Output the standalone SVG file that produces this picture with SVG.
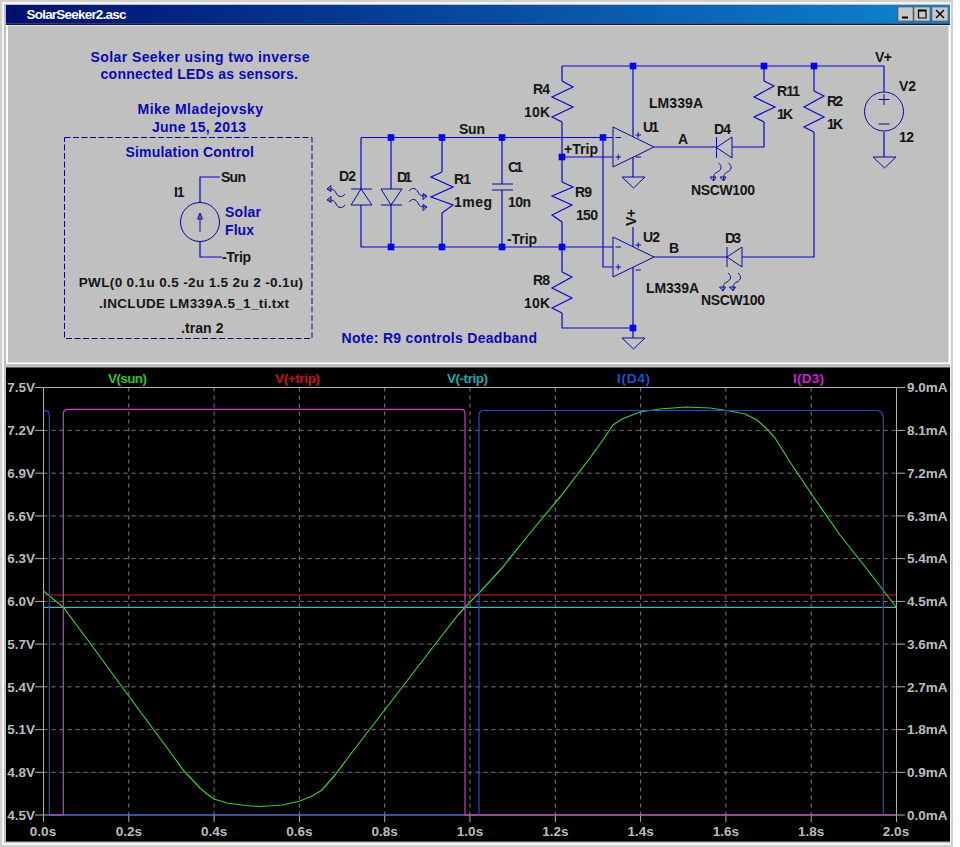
<svg xmlns="http://www.w3.org/2000/svg" xmlns:xlink="http://www.w3.org/1999/xlink" width="960" height="847" viewBox="0 0 960 847">
<style>
text{font-family:"Liberation Sans",Arial,sans-serif;font-weight:bold;font-size:14px}
.k{fill:#161616}
.b{fill:#0a0ab4}
.n{font-size:13.500px}
.w{fill:none;stroke:#0808cc;stroke-width:1.200}
.s{fill:none;stroke:#0a0a9c;stroke-width:1}
.j{fill:#0000f0}
.ax{fill:#bdbdbd;font-size:13.500px}
.g{fill:none;stroke:#7c7c7c;stroke-width:1;stroke-dasharray:4 4}
.t{fill:none;stroke-width:1.200}
.tick{fill:none;stroke:#b0b0b0;stroke-width:1}
</style>
<defs>
<linearGradient id="tb" x1="0" x2="1" y1="0" y2="0"><stop offset="0" stop-color="#001070"/><stop offset="1" stop-color="#1084d0"/></linearGradient>
<g id="lf"><path class="s" d="M6,0 C10,3 9,7 5,9 C2,10 1,12 1,17 M-2.500,14 L1,18 L3.500,14 H-2.500"/></g>
<g id="gnd"><path class="s" d="M-11.500,0 H11.500 L0,11 Z"/></g>
<rect id="jn" x="-3.300" y="-3.300" width="6.600" height="6.600" class="j"/>
</defs>
<rect width="960" height="847" fill="#fff"/>
<g id="window">
<rect x="0" y="0" width="953" height="847" fill="#d0d0d0"/>
<rect x="2" y="2" width="949" height="843" fill="#f4f4f4"/>
<rect x="4" y="4" width="946" height="839" fill="#c0c0c0"/>
<rect x="6" y="5" width="944" height="18.500" fill="url(#tb)"/>
<path d="M17,8 C11,11 11,18 17,22 C14,18 14,12 17,8 Z" fill="#000a50"/>
<text class="n" x="26.500" y="18.500" fill="#fff" textLength="100" lengthAdjust="spacing">SolarSeeker2.asc</text>
<rect x="6" y="23.500" width="944" height="1.500" fill="#101030"/>
<g id="buttons">
<rect x="898" y="7" width="15" height="14" fill="#c8c8c8" stroke="#555" stroke-width=".6"/>
<rect x="914" y="7" width="16" height="14" fill="#c8c8c8" stroke="#555" stroke-width=".6"/>
<rect x="932" y="7" width="16" height="14" fill="#c8c8c8" stroke="#555" stroke-width=".6"/>
<path d="M902,17.500 H908" stroke="#000" stroke-width="2"/>
<path d="M918.500,10 H926 V18 H918.500 Z M918.500,10.800 H926" fill="none" stroke="#000" stroke-width="1.200"/>
<path d="M936,10 L944,18 M944,10 L936,18" stroke="#000" stroke-width="1.500"/>
</g>
<rect x="6" y="25" width="944" height="339" fill="#fff"/>
<rect x="8" y="25.500" width="940.500" height="337" fill="#c0c0c0"/>
</g>

<g id="annotations">
<text class="b" x="90.500" y="61.500" textLength="219" lengthAdjust="spacing">Solar Seeker using two inverse</text>
<text class="b" x="100.500" y="79" textLength="197.500" lengthAdjust="spacing">connected LEDs as sensors.</text>
<text class="b" x="137.500" y="114" textLength="125.500" lengthAdjust="spacing">Mike Mladejovsky</text>
<text class="b" x="152" y="132" textLength="94" lengthAdjust="spacing">June 15, 2013</text>
<rect x="64.500" y="137.500" width="247.500" height="201" fill="none" stroke="#0a0a80" stroke-width="1" stroke-dasharray="6 2.500"/>
<text class="b" x="125.500" y="157" textLength="128.500" lengthAdjust="spacing">Simulation Control</text>
<text class="k n" x="78.700" y="287" textLength="224.300" lengthAdjust="spacing">PWL(0 0.1u 0.5 -2u 1.5 2u 2 -0.1u)</text>
<text class="k n" x="99" y="308" textLength="190" lengthAdjust="spacing">.INCLUDE LM339A.5_1_ti.txt</text>
<text class="k" x="181" y="333" textLength="42.500" lengthAdjust="spacing">.tran 2</text>
<text class="b" x="341.500" y="343" textLength="195.500" lengthAdjust="spacing">Note: R9 controls Deadband</text>
</g>

<g id="connectors">
<path class="w" d="M361,137.500 H603 M603,137.500 H613 M562,122 V182 M562,222 V247 M562,157 H613 M603,137.500 V267 H613 M361,137.500 V189 M361,205 V247 H613 M391,137.500 V189 M391,205 V247 M442,137.500 V172 M442,213 V247 M502,137.500 V184 M502,190 V247 M562,66 V81 M562,66 H884 V92 M633,66 V137 M633,157 V177 M633,227 V247 M633,267 V338 M562,247 V272 M562,313 V328 H633 M654,147 H716 M732,147 H764 V122 M764,66 V81 M814,66 V91 M814,132 V257 H742 M654,257 H727 M884,132 V157 M200,202 V177 H220 M200,242 V257 H222"/>
<use xlink:href="#jn" href="#jn" x="391" y="137.500"/><use xlink:href="#jn" href="#jn" x="442" y="137.500"/><use xlink:href="#jn" href="#jn" x="502" y="137.500"/><use xlink:href="#jn" href="#jn" x="603" y="137.500"/><use xlink:href="#jn" href="#jn" x="562" y="157"/><use xlink:href="#jn" href="#jn" x="391" y="247"/><use xlink:href="#jn" href="#jn" x="442" y="247"/><use xlink:href="#jn" href="#jn" x="502" y="247"/><use xlink:href="#jn" href="#jn" x="562" y="247"/><use xlink:href="#jn" href="#jn" x="633" y="66"/><use xlink:href="#jn" href="#jn" x="764" y="66"/><use xlink:href="#jn" href="#jn" x="814" y="66"/><use xlink:href="#jn" href="#jn" x="633" y="328"/>
</g>

<g id="I1">
<circle class="s" cx="200" cy="222" r="19.500"/>
<path class="s" d="M200,232 V213 M197.500,219 L200,213 L202.500,219 Z"/>
<text class="k" x="174" y="197" textLength="10.500" lengthAdjust="spacing">I1</text>
<text class="k" x="221" y="182" textLength="25" lengthAdjust="spacing">Sun</text>
<text class="b" x="225" y="217" textLength="36" lengthAdjust="spacing">Solar</text>
<text class="b" x="225" y="235" textLength="29" lengthAdjust="spacing">Flux</text>
<text class="k" x="222" y="262" textLength="29" lengthAdjust="spacing">-Trip</text>
</g>
<g id="D2">
<path class="s" d="M351,189 H372 M361,189 L372,205 H351 Z"/>
<use xlink:href="#lf" href="#lf" transform="translate(345,188) rotate(90)"/>
<use xlink:href="#lf" href="#lf" transform="translate(345,199) rotate(90)"/>
<text class="k" x="339" y="181" textLength="17" lengthAdjust="spacing">D2</text>
</g>
<g id="D1">
<path class="s" d="M381,189 H402 L391,205 Z M381,205 H402"/>
<use xlink:href="#lf" href="#lf" transform="translate(409,197) rotate(-90)"/>
<use xlink:href="#lf" href="#lf" transform="translate(409,208) rotate(-90)"/>
<text class="k" x="397" y="182" textLength="15" lengthAdjust="spacing">D1</text>
</g>
<g id="R1">
<path class="w" d="M442,172 L431,177 L453,187 L431,197 L453,205 L442,213"/>
<text class="k" x="454" y="184" textLength="17" lengthAdjust="spacing">R1</text>
<text class="k" x="454" y="207" textLength="38" lengthAdjust="spacing">1meg</text>
</g>
<g id="C1">
<path class="s" d="M492,184 H513 M492,190 H513"/>
<text class="k" x="508" y="172" textLength="15" lengthAdjust="spacing">C1</text>
<text class="k" x="508" y="207" textLength="23" lengthAdjust="spacing">10n</text>
</g>
<text class="k" x="459" y="134" textLength="26" lengthAdjust="spacing">Sun</text>
<text class="k" x="564" y="154" textLength="34" lengthAdjust="spacing">+Trip</text>
<text class="k" x="507" y="244" textLength="30" lengthAdjust="spacing">-Trip</text>
<g id="R4">
<path class="w" d="M562,81 L573,87 L552,97 L573,107 L552,117 L562,122"/>
<text class="k" x="533" y="94" textLength="17" lengthAdjust="spacing">R4</text>
<text class="k" x="524" y="117" textLength="26" lengthAdjust="spacing">10K</text>
</g>
<g id="R9">
<path class="w" d="M562,182 L573,187 L552,196 L572,205 L552,215 L562,222"/>
<text class="k" x="575" y="197" textLength="17" lengthAdjust="spacing">R9</text>
<text class="k" x="576" y="220" textLength="22" lengthAdjust="spacing">150</text>
</g>
<g id="R8">
<path class="w" d="M562,272 L572,277 L552,288 L572,298 L552,308 L562,313"/>
<text class="k" x="533" y="285" textLength="17" lengthAdjust="spacing">R8</text>
<text class="k" x="524" y="308" textLength="26" lengthAdjust="spacing">10K</text>
</g>
<g id="U1">
<path class="s" d="M613,127 L654,147 L613,167 Z M615.500,137.500 H621 M615.500,157 H621 M618.200,154.300 V159.700 M635.500,135 H641 M638.200,132.300 V137.700 M635.500,157 H641"/>
<use xlink:href="#gnd" href="#gnd" x="633.500" y="177"/>
<text class="k" x="649" y="108" textLength="54" lengthAdjust="spacing">LM339A</text>
<text class="k" x="643" y="132" textLength="16" lengthAdjust="spacing">U1</text>
<text class="k" x="678" y="144" textLength="10" lengthAdjust="spacing">A</text>
</g>
<g id="U2">
<path class="s" d="M613,237 L654,257 L613,277 Z M615.500,247 H621 M615.500,267 H621 M618.200,264.300 V269.700 M635.500,245 H641 M638.200,242.300 V247.700 M635.500,270 H641"/>
<use xlink:href="#gnd" href="#gnd" x="633.500" y="338"/>
<text class="k" transform="translate(636,226) rotate(-90)" textLength="17" lengthAdjust="spacing">V+</text>
<text class="k" x="643" y="242" textLength="17" lengthAdjust="spacing">U2</text>
<text class="k" x="669" y="253" textLength="9.500" lengthAdjust="spacing">B</text>
<text class="k" x="646" y="293" textLength="53" lengthAdjust="spacing">LM339A</text>
</g>
<g id="D4">
<path class="s" d="M716.500,137 V158 M716.500,147.500 L732,137 V158 Z"/>
<use xlink:href="#lf" href="#lf" transform="translate(712.500,163)"/>
<use xlink:href="#lf" href="#lf" transform="translate(722.500,163)"/>
<text class="k" x="714" y="134" textLength="17" lengthAdjust="spacing">D4</text>
<text class="k" x="691" y="195" textLength="64" lengthAdjust="spacing">NSCW100</text>
</g>
<g id="D3">
<path class="s" d="M727,247 V267 M727,257 L742,247 V267 Z"/>
<use xlink:href="#lf" href="#lf" transform="translate(722,273)"/>
<use xlink:href="#lf" href="#lf" transform="translate(732,273)"/>
<text class="k" x="725" y="243" textLength="16" lengthAdjust="spacing">D3</text>
<text class="k" x="701" y="305" textLength="64" lengthAdjust="spacing">NSCW100</text>
</g>
<g id="R11">
<path class="w" d="M764,81 L774,86 L754,97 L775,107 L754,117 L764,122"/>
<text class="k" x="777" y="96" textLength="23" lengthAdjust="spacing">R11</text>
<text class="k" x="777" y="119" textLength="16" lengthAdjust="spacing">1K</text>
</g>
<g id="R2">
<path class="w" d="M814,91 L824,96 L804,107 L824,117 L804,127 L814,132"/>
<text class="k" x="827" y="106" textLength="16" lengthAdjust="spacing">R2</text>
<text class="k" x="827" y="129" textLength="16" lengthAdjust="spacing">1K</text>
</g>
<g id="V2">
<circle class="s" cx="884" cy="111.500" r="19.500"/>
<path class="s" d="M878.500,99.500 H889.500 M884,94 V105 M878.500,124 H889.500"/>
<use xlink:href="#gnd" href="#gnd" x="884.500" y="157"/>
<text class="k" x="875" y="62" textLength="17" lengthAdjust="spacing">V+</text>
<text class="k" x="899" y="91" textLength="17" lengthAdjust="spacing">V2</text>
<text class="k" x="899" y="142" textLength="15" lengthAdjust="spacing">12</text>
</g>

<g id="plot">
<rect x="6" y="367.500" width="944" height="474" fill="#000"/>
<path class="g" d="M43.500,430.400 H896.500 M43.500,473.200 H896.500 M43.500,515.900 H896.500 M43.500,558.600 H896.500 M43.500,601.400 H896.500 M43.500,644.100 H896.500 M43.500,686.800 H896.500 M43.500,729.600 H896.500 M43.500,772.300 H896.500"/>
<path class="g" d="M128.800,387.500 V815 M214.100,387.500 V815 M299.400,387.500 V815 M384.700,387.500 V815 M470,387.500 V815 M555.300,387.500 V815 M640.600,387.500 V815 M725.900,387.500 V815 M811.200,387.500 V815"/>
<path class="tick" d="M43.500,387.500 H896.500 V815 H43.500 Z M35,387.500 H43.500 M35,430.400 H43.500 M35,473.200 H43.500 M35,515.900 H43.500 M35,558.600 H43.500 M35,601.400 H43.500 M35,644.100 H43.500 M35,686.800 H43.500 M35,729.600 H43.500 M35,772.300 H43.500 M35,815 H43.500 M896.500,387.500 H905 M896.500,430.400 H905 M896.500,473.200 H905 M896.500,515.900 H905 M896.500,558.600 H905 M896.500,601.400 H905 M896.500,644.100 H905 M896.500,686.800 H905 M896.500,729.600 H905 M896.500,772.300 H905 M896.500,815 H905 M43.500,815 V822 M128.800,815 V822 M214.100,815 V822 M299.400,815 V822 M384.700,815 V822 M470,815 V822 M555.300,815 V822 M640.600,815 V822 M725.900,815 V822 M811.200,815 V822 M896.500,815 V822"/>
<path class="t" stroke="#cc2020" d="M43.500,595 H896.500"/>
<path class="t" stroke="#40b8b8" d="M43.500,607.300 H896.500"/>
<polyline class="t" stroke="#40c840" points="43.500,591 63,607 90,643 125,691 162,741 173,756 184,771 200,788 207,794 214,799 227,803 245,805.500 260,806.500 283,805 300,801 312,796 322,790 335,775 350,755 380,716 410,677 440,638 458,615 470,602 480,592 502,568 530,533 560,497 590,458 605,437 613,425 622,419 640,412 660,409 686,407 710,408 730,411 745,414 757,420 768,430 775,438 790,462 810,492 840,535 870,573 896,607"/>
<path class="t" stroke="#2a48d8" d="M43.500,410.700 H46 Q49.300,411 49.300,416 V815 H465 M479,815 V415 Q479,410.500 484,410.500 H876 Q883.300,410.500 883.300,418 V815"/>
<path class="t" stroke="#d038d0" d="M49,815 H63.300 V414 Q63.300,409.300 68,409.300 H461 Q465,409.300 465,414 V815 H896.500"/>
<g class="ax">
<text class="ax" x="35" y="392" text-anchor="end">7.5V</text>
<text class="ax" x="35" y="435" text-anchor="end">7.2V</text>
<text class="ax" x="35" y="478" text-anchor="end">6.9V</text>
<text class="ax" x="35" y="520.500" text-anchor="end">6.6V</text>
<text class="ax" x="35" y="563" text-anchor="end">6.3V</text>
<text class="ax" x="35" y="606" text-anchor="end">6.0V</text>
<text class="ax" x="35" y="649" text-anchor="end">5.7V</text>
<text class="ax" x="35" y="691.500" text-anchor="end">5.4V</text>
<text class="ax" x="35" y="734" text-anchor="end">5.1V</text>
<text class="ax" x="35" y="777" text-anchor="end">4.8V</text>
<text class="ax" x="35" y="820" text-anchor="end">4.5V</text>
<text class="ax" x="907" y="392">9.0mA</text>
<text class="ax" x="907" y="435">8.1mA</text>
<text class="ax" x="907" y="478">7.2mA</text>
<text class="ax" x="907" y="520.500">6.3mA</text>
<text class="ax" x="907" y="563">5.4mA</text>
<text class="ax" x="907" y="606">4.5mA</text>
<text class="ax" x="907" y="649">3.6mA</text>
<text class="ax" x="907" y="691.500">2.7mA</text>
<text class="ax" x="907" y="734">1.8mA</text>
<text class="ax" x="907" y="777">0.9mA</text>
<text class="ax" x="907" y="820">0.0mA</text>
<text class="ax" x="43" y="836" text-anchor="middle">0.0s</text>
<text class="ax" x="128.800" y="836" text-anchor="middle">0.2s</text>
<text class="ax" x="214.100" y="836" text-anchor="middle">0.4s</text>
<text class="ax" x="299.400" y="836" text-anchor="middle">0.6s</text>
<text class="ax" x="384.700" y="836" text-anchor="middle">0.8s</text>
<text class="ax" x="470" y="836" text-anchor="middle">1.0s</text>
<text class="ax" x="555.300" y="836" text-anchor="middle">1.2s</text>
<text class="ax" x="640.600" y="836" text-anchor="middle">1.4s</text>
<text class="ax" x="725.900" y="836" text-anchor="middle">1.6s</text>
<text class="ax" x="811.200" y="836" text-anchor="middle">1.8s</text>
<text class="ax" x="896" y="836" text-anchor="middle">2.0s</text>
</g>
<text class="n" x="108" y="382.500" fill="#30c030" textLength="39" lengthAdjust="spacing">V(sun)</text>
<text class="n" x="275" y="382.500" fill="#c01818" textLength="45" lengthAdjust="spacing">V(+trip)</text>
<text class="n" x="447" y="382.500" fill="#20a8a8" textLength="41" lengthAdjust="spacing">V(-trip)</text>
<text class="n" x="617" y="382.500" fill="#2050d0" textLength="33" lengthAdjust="spacing">I(D4)</text>
<text class="n" x="793" y="382.500" fill="#d020d0" textLength="31" lengthAdjust="spacing">I(D3)</text>
</g>
</svg>
